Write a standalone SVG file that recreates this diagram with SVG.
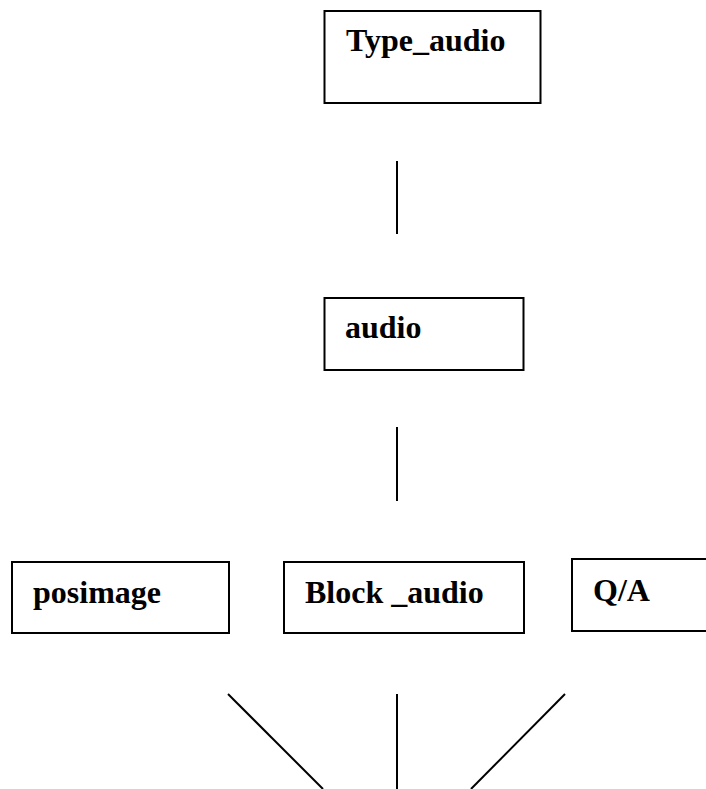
<svg xmlns="http://www.w3.org/2000/svg" width="706" height="789" viewBox="0 0 706 789">
<style>
.box{fill:#fff;stroke:#000;stroke-width:2}
.lbl{font-family:"Liberation Serif","Times New Roman",serif;font-weight:bold;font-size:32px;fill:#000}
.ln{stroke:#000;stroke-width:2;fill:none}
</style>
<rect width="706" height="789" fill="#fff"/>
<g id="connectors">
<line class="ln" x1="397" y1="161" x2="397" y2="234"/>
<line class="ln" x1="397" y1="427" x2="397" y2="501"/>
<line class="ln" x1="228" y1="694" x2="323" y2="789"/>
<line class="ln" x1="397" y1="694" x2="397" y2="789"/>
<line class="ln" x1="565" y1="694" x2="471" y2="789"/>
</g>
<g id="type_audio">
<rect class="box" x="324.5" y="11" width="216" height="92"/>
<text class="lbl" x="346" y="51">Type_audio</text>
</g>
<g id="audio">
<rect class="box" x="324.5" y="298" width="199" height="72"/>
<text class="lbl" x="345" y="338">audio</text>
</g>
<g id="posimage">
<rect class="box" x="12" y="562" width="217" height="71"/>
<text class="lbl" x="33" y="603">posimage</text>
</g>
<g id="block_audio">
<rect class="box" x="284" y="562" width="240" height="71"/>
<text class="lbl" x="305" y="603">Block _audio</text>
</g>
<g id="qa">
<rect class="box" x="572" y="559" width="140" height="72"/>
<text class="lbl" x="593" y="601">Q/A</text>
</g>
</svg>
